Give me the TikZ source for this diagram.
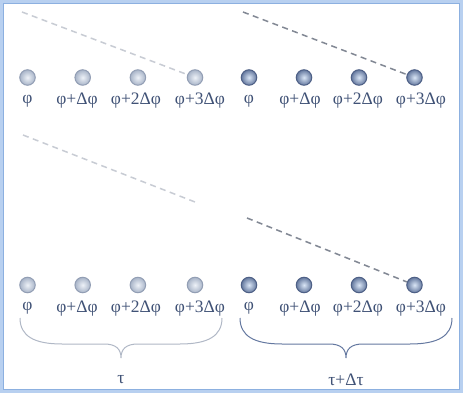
\documentclass[tikz,border=0pt]{standalone}
\usepackage{fontspec}
\setmainfont{Liberation Serif}
\definecolor{bgblue}{RGB}{184,208,240}
\definecolor{frameblue}{RGB}{140,176,224}
\definecolor{paleIn}{RGB}{238,242,248}
\definecolor{paleOut}{RGB}{168,180,200}
\definecolor{paleEdge}{RGB}{146,158,180}
\definecolor{darkIn}{RGB}{218,230,246}
\definecolor{darkOut}{RGB}{100,120,158}
\definecolor{darkEdge}{RGB}{78,96,134}
\definecolor{lbltext}{RGB}{64,82,118}
\definecolor{paledash}{RGB}{200,204,212}
\definecolor{darkdash}{RGB}{130,136,148}
\definecolor{palebr}{RGB}{176,184,198}
\definecolor{darkbr}{RGB}{100,120,160}
\begin{document}
\begin{tikzpicture}[x=1pt,y=-1pt,
  paleball/.style={circle,minimum size=15.5pt,inner sep=0pt,inner color=paleIn,outer color=paleOut,draw=paleEdge,line width=1pt},
  darkball/.style={circle,minimum size=15.5pt,inner sep=0pt,inner color=darkIn,outer color=darkOut,draw=darkEdge,line width=1pt},
  lbl/.style={text=lbltext,font=\fontsize{17.5}{17.5}\selectfont,inner sep=0pt},
  palelink/.style={dash pattern=on 6pt off 4.5pt,line width=1.5pt,draw=paledash},
  darklink/.style={dash pattern=on 6pt off 4.5pt,line width=1.5pt,draw=darkdash},
  palebrace/.style={line width=1pt,draw=palebr},
  darkbrace/.style={line width=1pt,draw=darkbr}]
\fill[bgblue] (0,0) rectangle (463,393);
\draw[fill=white,draw=frameblue,line width=1pt] (3.5,3.5) rectangle (459.5,389.5);
% row 1
\foreach \i/\x/\t in {1/27.5/{φ},2/82.7/{φ+Δφ},3/137.9/{φ+2Δφ},4/195/{φ+3Δφ}}{
  \node[paleball] (a\i) at (\x,77.5) {};
}
\foreach \i/\x/\t in {1/27.5/{φ},2/77/{φ+Δφ},3/136/{φ+2Δφ},4/200/{φ+3Δφ}}{
  \node[lbl] (la\i) at (\x,101) {\t};
}
\foreach \i/\x/\t in {1/249/{φ},2/304/{φ+Δφ},3/359/{φ+2Δφ},4/414.5/{φ+3Δφ}}{
  \node[darkball] (b\i) at (\x,77.5) {};
}
\foreach \i/\x/\t in {1/249/{φ},2/300/{φ+Δφ},3/358/{φ+2Δφ},4/421/{φ+3Δφ}}{
  \node[lbl] (lb\i) at (\x,101) {\t};
}
% row 2
\foreach \i/\x/\t in {1/27.5/{φ},2/82.7/{φ+Δφ},3/137.9/{φ+2Δφ},4/195/{φ+3Δφ}}{
  \node[paleball] (c\i) at (\x,285) {};
}
\foreach \i/\x/\t in {1/27.5/{φ},2/77/{φ+Δφ},3/136/{φ+2Δφ},4/200/{φ+3Δφ}}{
  \node[lbl] (lc\i) at (\x,308.5) {\t};
}
\foreach \i/\x/\t in {1/249/{φ},2/304/{φ+Δφ},3/359/{φ+2Δφ},4/414.5/{φ+3Δφ}}{
  \node[darkball] (d\i) at (\x,285) {};
}
\foreach \i/\x/\t in {1/249/{φ},2/300/{φ+Δφ},3/358/{φ+2Δφ},4/421/{φ+3Δφ}}{
  \node[lbl] (ld\i) at (\x,308.5) {\t};
}
% dashed lines
\coordinate (p1) at (22,12);
\coordinate (p2) at (243,12);
\coordinate (p3) at (23,135);
\coordinate (p4) at (195,202);
\coordinate (p5) at (247,218);
\draw[palelink] (p1) -- (a4);
\draw[darklink] (p2) -- (b4);
\draw[palelink] (p3) -- (p4);
\draw[darklink] (p5) -- (d4);
% braces
\draw[palebrace] (20,318) .. controls (20,336) and (34,344) .. (62,344) -- (104,344)
  .. controls (116,344) and (121,349) .. (121,358)
  .. controls (121,349) and (126,344) .. (138,344) -- (180,344)
  .. controls (208,344) and (222,336) .. (222,318);
\draw[darkbrace] (240,318) .. controls (240,336) and (254,344) .. (282,344) -- (329,344)
  .. controls (341,344) and (346,349) .. (346,358)
  .. controls (346,349) and (351,344) .. (363,344) -- (410,344)
  .. controls (438,344) and (452,336) .. (452,318);
\node[lbl] (t1) at (121,380) {τ};
\node[lbl] (t2) at (346,380) {τ+Δτ};
\end{tikzpicture}
\end{document}
